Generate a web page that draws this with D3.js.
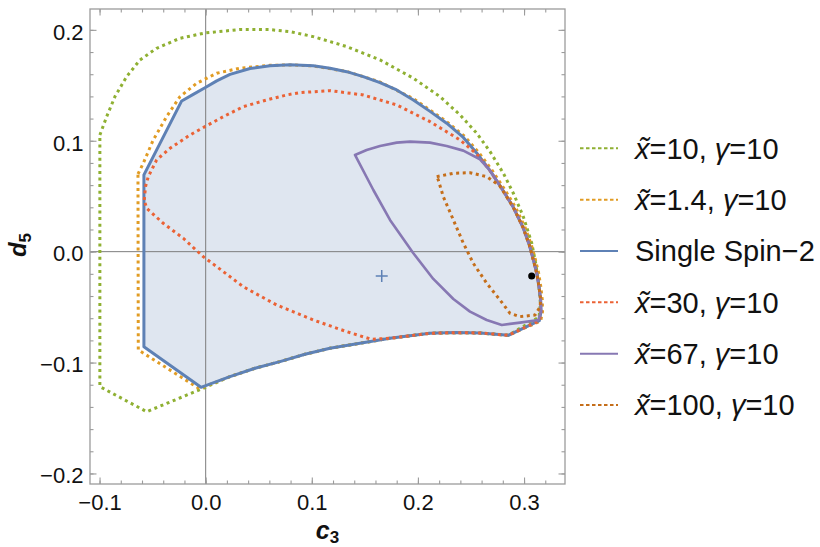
<!DOCTYPE html>
<html>
<head>
<meta charset="utf-8">
<script src="https://cdnjs.cloudflare.com/ajax/libs/d3/7.8.5/d3.min.js"></script>
<style>
body { margin: 0; background: #fff; }
svg { display: block; font-family: "Liberation Sans", Arial, sans-serif; }
</style>
</head>
<body>
<svg width="820" height="547"></svg>
<script>
// tick values
var xTicks = [-0.1, 0.0, 0.1, 0.2, 0.3];
var yTicks = [-0.2, -0.1, 0.0, 0.1, 0.2];

// legend
var labels = ["x\u0303=10, \u03b3=10", "x\u0303=1.4, \u03b3=10", "Single Spin\u22122",
              "x\u0303=30, \u03b3=10", "x\u0303=67, \u03b3=10", "x\u0303=100, \u03b3=10"];
var colors = ["#8FB032", "#E19C24", "#5E81B5", "#EB6235", "#8778B3", "#C56E1A"];
var dotted = [true, true, false, true, false, true];

// curves, [c3, d5] pairs
// edges shared by several bounds
var lowerEdge = [[-0.0044, -0.1223], [0.0229, -0.1127], [0.0465, -0.1051], [0.0700, -0.0992],
                 [0.0936, -0.0925], [0.1171, -0.0871], [0.1454, -0.0826], [0.1737, -0.0781],
                 [0.2114, -0.0736], [0.2350, -0.0730], [0.2585, -0.0733], [0.2852, -0.0754]];
var rightEdge = [[0.2680, 0.0730], [0.2790, 0.0570], [0.2899, 0.0400], [0.2990, 0.0220], [0.3050, 0.0060],
                 [0.3088, -0.0075], [0.3120, -0.0195], [0.3141, -0.0316], [0.3157, -0.0436],
                 [0.3160, -0.0541], [0.3144, -0.0622]];

var spin2 = [[-0.0582, 0.0692], [-0.0226, 0.1359], [-0.0117, 0.1418], [-0.0007, 0.1478], [0.0104, 0.1540],
             [0.0229, 0.1598], [0.0418, 0.1652], [0.0606, 0.1676], [0.0795, 0.1685], [0.1014, 0.1677],
             [0.1172, 0.1654], [0.1329, 0.1623], [0.1485, 0.1578], [0.1643, 0.1524], [0.1800, 0.1458],
             [0.1957, 0.1368], [0.2114, 0.1265], [0.2271, 0.1158], [0.2428, 0.1030], [0.2554, 0.0890]];
var spin2Left = [[-0.0582, -0.0857]];

var green = [[-0.0997, 0.1052], [-0.0933, 0.1217], [-0.0855, 0.1398], [-0.0745, 0.1578], [-0.0619, 0.1729],
             [-0.0462, 0.1834], [-0.0242, 0.1924], [-0.0007, 0.1972], [0.0323, 0.2003], [0.0606, 0.2002],
             [0.0795, 0.1984], [0.1014, 0.1939], [0.1329, 0.1849], [0.1643, 0.1729], [0.1957, 0.1564],
             [0.2208, 0.1398], [0.2397, 0.1233], [0.2554, 0.1068], [0.2680, 0.0902], [0.2805, 0.0707],
             [0.2899, 0.0527], [0.2993, 0.0316], [0.3073, 0.0076], [0.3110, -0.0105], [0.3138, -0.0285],
             [0.3154, -0.0465], [0.3142, -0.0590]];
var greenLeft = [[-0.0023, -0.1232], [-0.0556, -0.1443], [-0.0997, -0.1217]];

var orange = [[-0.0638, 0.0700], [-0.0588, 0.0797], [-0.0494, 0.1007], [-0.0368, 0.1217], [-0.0242, 0.1398],
              [-0.0085, 0.1518], [0.0104, 0.1609], [0.0323, 0.1654], [0.0606, 0.1680], [0.0795, 0.1684],
              [0.1014, 0.1675], [0.1329, 0.1625], [0.1643, 0.1530], [0.1957, 0.1380], [0.2271, 0.1172],
              [0.2440, 0.1040], [0.2570, 0.0898], [0.2698, 0.0735], [0.2810, 0.0572], [0.2920, 0.0400],
              [0.3010, 0.0218], [0.3070, 0.0058], [0.3108, -0.0075], [0.3138, -0.0195], [0.3158, -0.0316],
              [0.3172, -0.0436], [0.3174, -0.0541], [0.3157, -0.0625]];
var orangeLeft = [[-0.0060, -0.1235], [-0.0635, -0.0886]];

var red = [[-0.0579, 0.0466], [-0.0566, 0.0590], [-0.0541, 0.0676], [-0.0462, 0.0827], [-0.0336, 0.0932],
           [-0.0148, 0.1052], [-0.0007, 0.1127], [0.0166, 0.1217], [0.0354, 0.1307], [0.0575, 0.1368],
           [0.0763, 0.1413], [0.0889, 0.1434], [0.1172, 0.1452], [0.1485, 0.1413], [0.1800, 0.1323],
           [0.2114, 0.1172], [0.2397, 0.1007], [0.2554, 0.0880]];
var redInner = [[0.1560, -0.0790], [0.1329, -0.0721], [0.1014, -0.0616], [0.0669, -0.0481], [0.0354, -0.0316],
                [0.0104, -0.0135], [-0.0023, -0.0045], [-0.0211, 0.0121], [-0.0400, 0.0256], [-0.0556, 0.0391]];

var purpleTop = [[0.1407, 0.0872], [0.1517, 0.0917], [0.1643, 0.0953], [0.1800, 0.0983], [0.1926, 0.0992],
                 [0.2114, 0.0983], [0.2271, 0.0953], [0.2428, 0.0911], [0.2585, 0.0833]];
var purpleLow = [[0.3135, -0.0616], [0.2962, -0.0640], [0.2790, -0.0661], [0.2648, -0.0616], [0.2491, -0.0541],
                 [0.2334, -0.0427], [0.2145, -0.0246], [0.1957, -0.0014], [0.1737, 0.0286], [0.1580, 0.0556]];

var darkOrangeTop = [[0.2177, 0.0676], [0.2334, 0.0707], [0.2491, 0.0712], [0.2648, 0.0676], [0.2770, 0.0595]];
var darkOrangeLow = [[0.3150, -0.0500], [0.3104, -0.0571], [0.2962, -0.0586], [0.2868, -0.0556],
                     [0.2774, -0.0436], [0.2648, -0.0285], [0.2522, -0.0105], [0.2428, 0.0076], [0.2334, 0.0286],
                     [0.2239, 0.0496], [0.2192, 0.0647]];

var plusPoint = [0.1659, -0.0219];
var dotPoint = [0.3072, -0.0219];

var svg = d3.select("svg"),
    width = +svg.attr("width"),
    height = +svg.attr("height");

var pLeft = 90, pRight = 565, pTop = 9, pBottom = 484;

var x = d3.scaleLinear().domain([-0.109, 0.3386]).range([pLeft, pRight]);
var y = d3.scaleLinear().domain([-0.2095, 0.2188]).range([pBottom, pTop]);

var line = d3.line()
    .x(function(d) { return x(d[0]); })
    .y(function(d) { return y(d[1]); })
    .curve(d3.curveLinearClosed);

var edgeBack = lowerEdge.slice().reverse();

var curves = [
  green.concat(edgeBack.slice(0, -1), greenLeft),
  orange.concat(edgeBack.slice(0, -1), orangeLeft),
  spin2.concat(rightEdge, edgeBack, spin2Left),
  red.concat(rightEdge, edgeBack.filter(function(d) { return d[0] > 0.16; }), redInner),
  purpleTop.concat(rightEdge.slice(0, -1), purpleLow),
  darkOrangeTop.concat(rightEdge.slice(2, -2), darkOrangeLow)
];

// shaded region of the single spin-2 bound
svg.append("path")
    .attr("d", line(curves[2]))
    .attr("fill", "#5E81B5")
    .attr("fill-opacity", 0.2)
    .attr("stroke", "none");

// zero axes
svg.append("line")
    .attr("x1", x(0)).attr("x2", x(0))
    .attr("y1", pTop).attr("y2", pBottom)
    .attr("stroke", "#7d7d7d").attr("stroke-width", 1);
svg.append("line")
    .attr("x1", pLeft).attr("x2", pRight)
    .attr("y1", y(0)).attr("y2", y(0))
    .attr("stroke", "#7d7d7d").attr("stroke-width", 1);

svg.append("g")
    .selectAll("path")
    .data(curves)
    .enter().append("path")
      .attr("d", line)
      .attr("fill", "none")
      .attr("stroke", function(d, i) { return colors[i]; })
      .attr("stroke-width", function(d, i) { return dotted[i] ? 3 : (i == 2 ? 3 : 2.6); })
      .attr("stroke-dasharray", function(d, i) { return dotted[i] ? "3,3.6" : null; })
      .attr("stroke-linejoin", "round");

// marks
svg.append("path")
    .attr("d", "M" + (x(plusPoint[0]) - 6) + "," + y(plusPoint[1]) + "h12M" + x(plusPoint[0]) + "," + (y(plusPoint[1]) - 6) + "v12")
    .attr("stroke", "#5E81B5").attr("stroke-width", 1.5).attr("fill", "none");
svg.append("circle")
    .attr("cx", x(dotPoint[0])).attr("cy", y(dotPoint[1]))
    .attr("r", 3.5).attr("fill", "#000");

// frame
svg.append("rect")
    .attr("x", pLeft).attr("y", pTop)
    .attr("width", pRight - pLeft).attr("height", pBottom - pTop)
    .attr("fill", "none").attr("stroke", "#9b9b9b").attr("stroke-width", 1.3);

function frameAxis(axis, transform, values, size, labelled) {
  var g = svg.append("g")
      .attr("transform", transform)
      .call(axis.tickValues(values).tickSize(size).tickSizeOuter(0)
                .tickFormat(labelled ? d3.format(".1f") : ""));
  g.select(".domain").remove();
  g.selectAll(".tick line").attr("stroke", "#9b9b9b").attr("stroke-width", 1.1);
  g.attr("font-family", "Liberation Sans, Arial, sans-serif").attr("font-size", 22);
  g.selectAll("text").attr("fill", "#111");
  return g;
}

var xMinor = x.ticks(20), yMinor = y.ticks(20);

frameAxis(d3.axisBottom(x).tickPadding(10.5), "translate(0," + pBottom + ")", xMinor, -3.5, false);
frameAxis(d3.axisBottom(x).tickPadding(10.5), "translate(0," + pBottom + ")", xTicks, -6.5, true);
frameAxis(d3.axisTop(x), "translate(0," + pTop + ")", xMinor, -3.5, false);
frameAxis(d3.axisTop(x), "translate(0," + pTop + ")", xTicks, -6.5, false);
frameAxis(d3.axisLeft(y).tickPadding(6.5), "translate(" + pLeft + ",0)", yMinor, -3.5, false);
frameAxis(d3.axisLeft(y).tickPadding(6.5), "translate(" + pLeft + ",0)", yTicks, -6.5, true)
    .selectAll("text").attr("dy", "0.42em");
frameAxis(d3.axisRight(y), "translate(" + pRight + ",0)", yMinor, -3.5, false);
frameAxis(d3.axisRight(y), "translate(" + pRight + ",0)", yTicks, -6.5, false);

// axis labels
var xl = svg.append("text")
    .attr("x", (pLeft + pRight) / 2).attr("y", 539)
    .attr("text-anchor", "middle").attr("fill", "#111");
xl.append("tspan").text("c").attr("font-size", 25).attr("font-weight", "bold").attr("font-style", "italic");
xl.append("tspan").text("3").attr("font-size", 17).attr("font-weight", "bold").attr("dy", 4);

var yl = svg.append("text")
    .attr("transform", "translate(26,245) rotate(-90)")
    .attr("text-anchor", "middle").attr("fill", "#111");
yl.append("tspan").text("d").attr("font-size", 24).attr("font-weight", "bold").attr("font-style", "italic");
yl.append("tspan").text("5").attr("font-size", 17).attr("font-weight", "bold").attr("dy", 5);

// legend
var legend = svg.append("g")
    .selectAll("g")
    .data(labels)
    .enter().append("g")
      .attr("transform", function(d, i) { return "translate(0," + (148.3 + i * 51.35) + ")"; });

legend.append("line")
    .attr("x1", 580).attr("x2", 618)
    .attr("stroke", function(d, i) { return colors[i]; })
    .attr("stroke-width", 2)
    .attr("stroke-dasharray", function(d, i) { return dotted[i] ? "3.5,2.5" : null; });

legend.append("text")
    .attr("x", 635).attr("y", 10.3)
    .attr("font-size", 29).attr("fill", "#111")
    .each(function(d) {
      var t = d3.select(this);
      d.split(/(x\u0303|\u03b3)/).forEach(function(part) {
        if (!part) return;
        var s = t.append("tspan").text(part);
        if (part == "x\u0303" || part == "\u03b3") s.attr("font-style", "italic");
      });
    });
</script>
</body>
</html>
